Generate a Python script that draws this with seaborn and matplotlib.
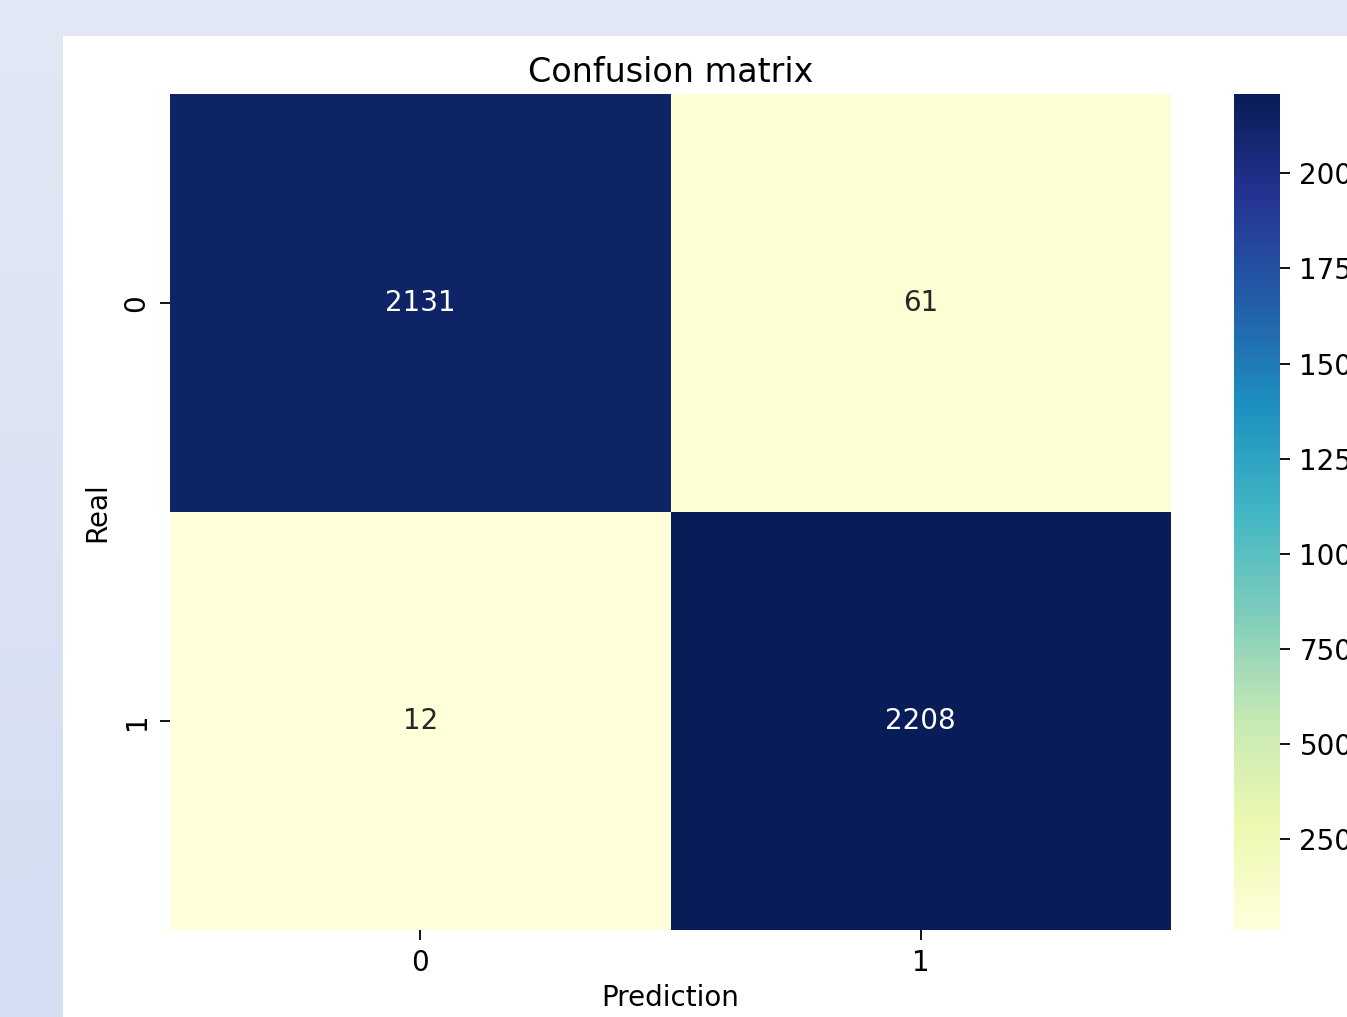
import numpy as np
import pandas as pd
import matplotlib
matplotlib.use('Agg')
import matplotlib.pyplot as plt
from matplotlib.patches import Rectangle
from matplotlib.colors import LinearSegmentedColormap
import seaborn as sns

# confusion matrix values
labels = ['0', '1']
row_real_0 = [2131, 61]
row_real_1 = [12, 2208]

cm = pd.DataFrame([row_real_0, row_real_1], index=labels, columns=labels)

W, H = 1347, 1017
fig = plt.figure(figsize=(W / 100, H / 100), dpi=100)

# light blue frame, a touch darker towards the bottom
bg = fig.add_axes([0, 0, 1, 1], zorder=-20)
bg_cmap = LinearSegmentedColormap.from_list('bg', ['#e2e8f5', '#d4ddf2'])
bg.imshow(np.linspace(0, 1, 256).reshape(-1, 1), aspect='auto', cmap=bg_cmap,
          extent=[0, 1, 0, 1])
bg.set_axis_off()

# white figure area sitting inside the frame
fig.patches.append(Rectangle((63 / W, 0), 1, (H - 36) / H,
                             transform=fig.transFigure, facecolor='white',
                             edgecolor='none', zorder=-10))

ax = fig.add_axes([170 / W, (H - 930) / H, 1001 / W, 836 / H])
cax = fig.add_axes([1234 / W, (H - 930) / H, 46 / W, 836 / H])

sns.heatmap(cm, annot=True, fmt='d', cmap='YlGnBu', ax=ax, cbar_ax=cax,
            annot_kws={'fontsize': 20})

ax.set_title('Confusion matrix', fontsize=24, pad=9)
ax.set_xlabel('Prediction', fontsize=20, labelpad=5)
ax.set_ylabel('Real', fontsize=20, labelpad=8)
ax.tick_params(labelsize=20, length=7, width=1.3, pad=7)
cax.tick_params(labelsize=20, length=7, width=1.3, pad=7)
for lbl in ax.get_yticklabels():
    lbl.set_rotation(90)
    lbl.set_va('center')

fig.savefig('out.png', dpi=100)
